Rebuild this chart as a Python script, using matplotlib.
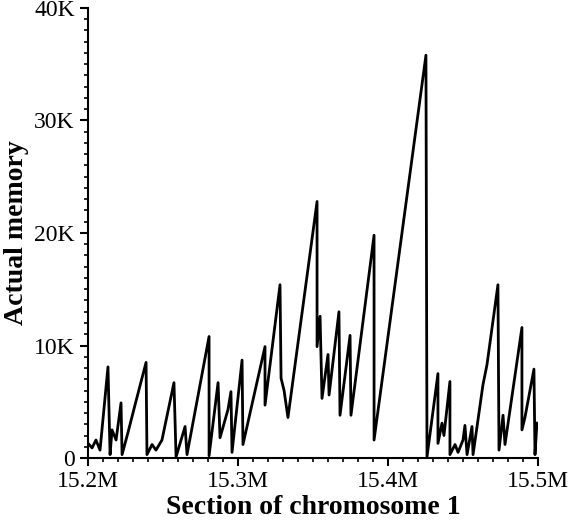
import matplotlib
matplotlib.use("Agg")
import matplotlib.pyplot as plt
from matplotlib.ticker import MultipleLocator, FuncFormatter

pos_mb = [15.2, 15.2027, 15.2053, 15.208, 15.2133, 15.2147, 15.216, 15.2187, 15.222, 15.2227,
          15.2267, 15.2313, 15.2387, 15.2393, 15.2427, 15.2453, 15.2493, 15.2573, 15.2587, 15.2647,
          15.266, 15.2807, 15.2807, 15.2867, 15.288, 15.2933, 15.2953, 15.296, 15.3027, 15.3033,
          15.318, 15.318, 15.328, 15.3287, 15.3307, 15.3333, 15.3527, 15.3527, 15.3547, 15.356,
          15.36, 15.3607, 15.3673, 15.368, 15.3747, 15.3753, 15.3907, 15.3907, 15.4253, 15.426,
          15.4333, 15.4333, 15.436, 15.4373, 15.4413, 15.4413, 15.4447, 15.4467, 15.45, 15.4513,
          15.4527, 15.456, 15.4567, 15.4633, 15.466, 15.4733, 15.474, 15.4767, 15.478, 15.4893,
          15.4893, 15.4913, 15.4973, 15.498, 15.4993]
memory_k = [1.3, 0.9, 1.6, 0.7, 8.1, 0.3, 2.5, 1.6, 4.9, 0.3,
            2.3, 4.7, 8.5, 0.3, 1.2, 0.7, 1.6, 6.7, 0.1, 2.8,
            0.3, 10.8, 0.2, 6.7, 1.8, 4.3, 5.9, 0.5, 8.7, 1.2,
            9.9, 4.7, 15.4, 7.1, 6.0, 3.6, 22.8, 9.9, 12.6, 5.3,
            9.2, 5.6, 13.0, 3.8, 10.9, 3.8, 19.8, 1.6, 35.8, 0.1,
            7.5, 1.3, 3.1, 2.0, 6.8, 0.3, 1.2, 0.5, 1.6, 2.9,
            0.3, 2.8, 0.3, 6.5, 8.3, 15.4, 0.7, 3.8, 1.2, 11.6,
            2.5, 3.6, 7.9, 0.3, 3.1]

plt.rcParams['font.family'] = ['Liberation Serif', 'DejaVu Serif']
fig = plt.figure(figsize=(5.69, 5.25), dpi=100)
ax = fig.add_axes([0.1547, 0.1276, 0.7908, 0.8572])
ax.plot([p * 1e6 for p in pos_mb], [m * 1e3 for m in memory_k], color='black', lw=2)
ax.set_xlim(15.2e6, 15.5e6)
ax.set_ylim(0, 40000)
ax.xaxis.set_major_locator(MultipleLocator(100000))
ax.xaxis.set_minor_locator(MultipleLocator(10000))
ax.yaxis.set_major_locator(MultipleLocator(10000))
ax.yaxis.set_minor_locator(MultipleLocator(1000))
ax.xaxis.set_major_formatter(FuncFormatter(lambda v, p: f"{v/1e6:.1f}M"))
ax.yaxis.set_major_formatter(FuncFormatter(lambda v, p: f"{int(round(v/1000))}K" if v else "0"))
for s in ['top', 'right']:
    ax.spines[s].set_visible(False)
for s in ['left', 'bottom']:
    ax.spines[s].set_linewidth(1.5)
ax.tick_params(which='major', direction='out', length=6, width=1.5, labelsize=17)
ax.tick_params(which='minor', direction='out', length=3, width=1.2)
ax.set_xlabel('Section of chromosome 1', fontsize=20, fontweight='bold', labelpad=2)
ax.set_ylabel('Actual memory', fontsize=20, fontweight='bold', labelpad=4)
fig.savefig('out.png', dpi=100)
